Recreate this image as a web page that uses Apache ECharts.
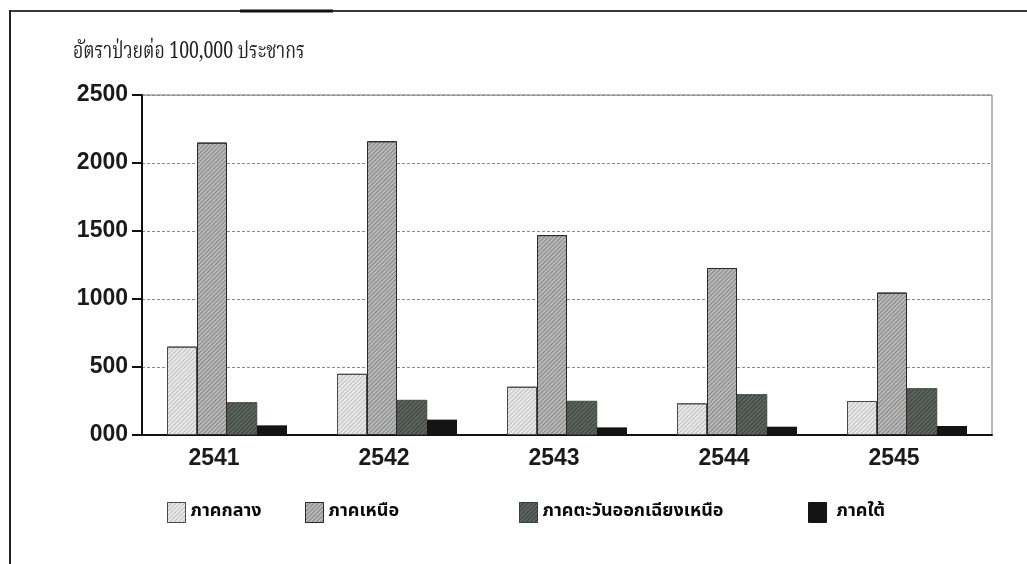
<!DOCTYPE html>
<html>
<head>
<meta charset="utf-8">
<style>
  html, body { margin: 0; padding: 0; background: #ffffff; }
  #chart { width: 1027px; height: 564px; }
</style>
<script src="https://cdn.jsdelivr.net/npm/echarts@6/dist/echarts.min.js"></script>
</head>
<body>
<div id="chart"></div>
<script>
// Years (Buddhist Era) on the category axis
const years = ['2541', '2542', '2543', '2544', '2545'];

// Regions shown in the legend
const regionNames = ['ภาคกลาง', 'ภาคเหนือ', 'ภาคตะวันออกเฉียงเหนือ', 'ภาคใต้'];

// Morbidity rate per 100,000 population, by region
const central   = [650, 450, 355, 233, 250];
const northern  = [2150, 2160, 1470, 1228, 1047];
const northeast = [240, 257, 250, 299, 343];
const southern  = [71, 113, 56, 61, 66];

// Value-axis tick labels (0 is printed as "000")
const yTickLabels = { 0: '000', 500: '500', 1000: '1000', 1500: '1500', 2000: '2000', 2500: '2500' };

const axisTitle = 'อัตราป่วยต่อ 100,000 ประชากร';

const thaiSans = "'Noto Sans Thai', 'Noto Sans Thai UI', 'Loma', 'Garuda', 'Waree', 'Noto Sans', sans-serif";
const thaiSerif = "'Noto Serif Thai', 'Norasi', 'Kinnari', 'Laksaman', 'Noto Sans Thai', serif";
const numFont = "'Liberation Sans', Arial, Helvetica, sans-serif";

function hatch(color) {
  return {
    symbol: 'rect',
    color: color,
    dashArrayX: [1, 0],
    dashArrayY: [1, 2],
    rotation: -Math.PI / 4
  };
}

const seriesStyles = [
  { color: '#e9e9e9', borderColor: '#4a4a4a', borderWidth: 1, decal: hatch('rgba(0,0,0,0.18)') },
  { color: '#b9b9b9', borderColor: '#2a2a2a', borderWidth: 1, decal: hatch('rgba(0,0,0,0.28)') },
  { color: '#5d655f', borderColor: '#3a3f3b', borderWidth: 0.5, decal: hatch('rgba(0,0,0,0.35)') },
  { color: '#141414', borderColor: '#141414', borderWidth: 0 }
];

const seriesValues = [central, northern, northeast, southern];

// legend placements (one legend per entry so spacing can follow the layout)
const legendLeft = [162, 300, 514, 803];
const legendTextPad = [[0, 0, 0, 0], [0, 0, 0, 0], [0, 0, 0, 0], [0, 0, 0, 5]];

const chart = echarts.init(document.getElementById('chart'), null, { renderer: 'canvas' });

const option = {
  backgroundColor: '#ffffff',
  animation: false,
  aria: { enabled: false, decal: { show: false } },
  grid: {
    left: 142, right: 35, top: 95, bottom: 129,
    show: true,
    borderColor: '#6f6f6f',
    borderWidth: 1,
    backgroundColor: 'transparent'
  },
  legend: regionNames.map((name, i) => ({
    data: [name],
    left: legendLeft[i],
    top: 497,
    icon: 'rect',
    itemWidth: 18,
    itemHeight: 20,
    itemStyle: { borderWidth: 1 },
    textStyle: {
      fontFamily: thaiSans,
      fontSize: 18,
      fontWeight: 'bold',
      color: '#0a0a0a',
      padding: legendTextPad[i]
    },
    selectedMode: false
  })),
  xAxis: {
    type: 'category',
    data: years,
    axisLine: { lineStyle: { color: '#111', width: 2 } },
    axisTick: { show: false },
    axisLabel: {
      fontFamily: numFont,
      fontWeight: 'bold',
      fontSize: 23,
      color: '#1a1a1a',
      margin: 12,
      padding: [0, 26, 0, 0]
    }
  },
  yAxis: {
    type: 'value',
    min: 0,
    max: 2500,
    interval: 500,
    axisLine: { show: true, lineStyle: { color: '#111', width: 2 } },
    axisTick: { show: true, length: 10, lineStyle: { color: '#111', width: 2 } },
    axisLabel: {
      fontFamily: numFont,
      fontWeight: 'bold',
      fontSize: 23,
      color: '#1a1a1a',
      margin: 14,
      formatter: v => yTickLabels[v]
    },
    splitLine: {
      show: true,
      lineStyle: { color: '#8a8a8a', width: 1, type: [3, 2] }
    }
  },
  series: regionNames.map((name, i) => ({
    name: name,
    type: 'bar',
    data: seriesValues[i],
    barWidth: 30,
    barGap: '0%',
    itemStyle: seriesStyles[i],
    emphasis: { disabled: true }
  })),
  graphic: [
    // axis caption, set in a narrow looped Thai face
    {
      type: 'text',
      left: 73,
      top: 43,
      scaleX: 0.77,
      originX: 0,
      style: {
        text: axisTitle,
        fontFamily: thaiSerif,
        fontSize: 23,
        fill: '#222'
      }
    },
    { type: 'line', shape: { x1: 10, y1: 11, x2: 1027, y2: 11 }, style: { stroke: '#3a3a3a', lineWidth: 2 } },
    { type: 'line', shape: { x1: 240, y1: 11, x2: 333, y2: 11 }, style: { stroke: '#111', lineWidth: 3 } },
    { type: 'line', shape: { x1: 10, y1: 10, x2: 10, y2: 564 }, style: { stroke: '#222', lineWidth: 2 } }
  ]
};

chart.setOption(option);
</script>
</body>
</html>
